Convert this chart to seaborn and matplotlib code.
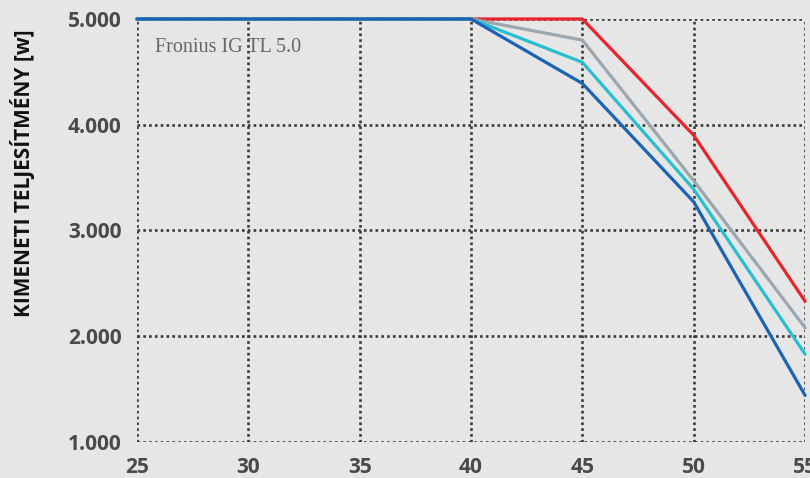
import matplotlib
matplotlib.use("Agg")
import matplotlib.pyplot as plt
import seaborn as sns
import pandas as pd

# ambient temperature (°C) on the x axis
temps = [25, 30, 35, 40, 45, 50, 55]

# output power [W] for each curve
red_vals = [5000, 5000, 5000, 5000, 5000, 3900, 2330]
gray_vals = [5000, 5000, 5000, 5000, 4800, 3470, 2080]
cyan_vals = [5000, 5000, 5000, 5000, 4590, 3390, 1830]
blue_vals = [5000, 5000, 5000, 5000, 4390, 3270, 1440]

series_names = ["red", "gray", "cyan", "blue"]
series_colors = ["#e8252d", "#9ba6ae", "#27bfd0", "#1b63b5"]

y_ticks = [1000, 2000, 3000, 4000, 5000]
y_tick_labels = ["1.000", "2.000", "3.000", "4.000", "5.000"]

frames = []
for name, vals in zip(series_names, [red_vals, gray_vals, cyan_vals, blue_vals]):
    frames.append(pd.DataFrame({"temp": temps, "power": vals, "series": name}))
df = pd.concat(frames, ignore_index=True)

sns.set_style("white")
bg = "#e6e6e6"
fig = plt.figure(figsize=(8.1, 4.78), dpi=100, facecolor=bg)
ax = fig.add_axes([0.169, 0.0753, 0.825, 0.885])
ax.set_facecolor(bg)

sns.lineplot(data=df, x="temp", y="power", hue="series",
             palette=dict(zip(series_names, series_colors)),
             linewidth=2.3, ax=ax, legend=False, clip_on=False, zorder=3)

ax.set_xlim(25, 55)
ax.set_ylim(1000, 5000)
ax.set_xticks(temps)
ax.set_yticks(y_ticks)
ax.set_yticklabels(y_tick_labels)

ax.grid(True, color="#3a3a3a", linestyle=(0, (1, 1.2)), linewidth=1.9)
ax.set_axisbelow(True)
for s in ax.spines.values():
    s.set_visible(False)

ax.tick_params(axis="both", length=4, width=1.6, color="#3a3a3a",
               labelsize=15, labelcolor="#4a4a4a", pad=7)
for lab in ax.get_xticklabels() + ax.get_yticklabels():
    lab.set_fontfamily("Open Sans")
    lab.set_fontweight("bold")

ax.set_xlabel("")
ax.set_ylabel("KIMENETI TELJESÍTMÉNY [w]", fontsize=15, fontweight="bold",
              family="Open Sans", color="#111111")
ax.yaxis.set_label_coords(-0.153, 0.636)

ax.text(25.8, 4730, "Fronius IG TL 5.0", family="Liberation Serif",
        fontsize=14.5, color="#666666", va="center", ha="left")

fig.savefig("out.png", dpi=100, facecolor=bg)
